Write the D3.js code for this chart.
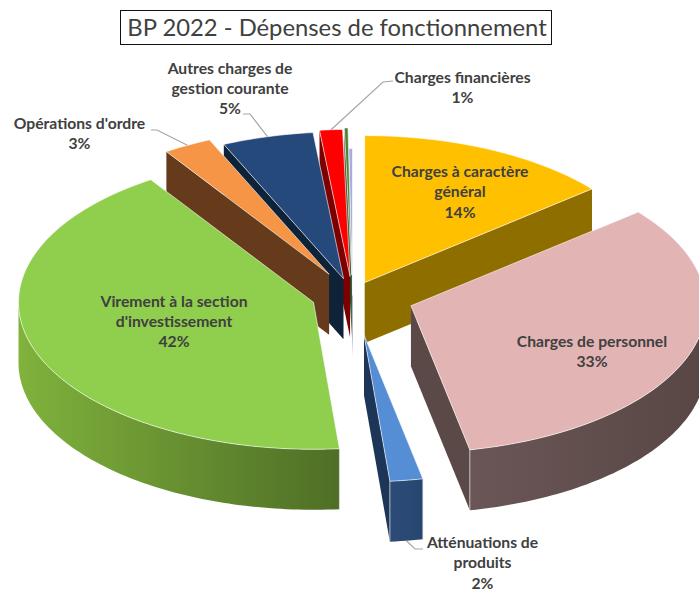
<!DOCTYPE html>
<html>
<head>
<meta charset="utf-8">
<script src="https://cdn.jsdelivr.net/npm/d3@7"></script>
<style>
  html, body { margin: 0; background: #fff; }
  svg { display: block; }
  text { font-family: Lato, "Open Sans", sans-serif; }
</style>
</head>
<body>
<div class="chart"></div>
<script>
const titleText = "BP 2022 - Dépenses de fonctionnement";

// clockwise from 12 o'clock, the last two slivers have no label in the chart
const categories = [
  ["Charges à caractère", "général"],
  ["Charges de personnel"],
  ["Atténuations de", "produits"],
  ["Virement à la section", "d'investissement"],
  ["Opérations d'ordre"],
  ["Autres charges de", "gestion courante"],
  ["Charges financières"],
  null,
  null
];
const shares = [14.0, 32.8, 1.8, 42.1, 2.65, 5.0, 1.25, 0.2, 0.2];
const explosion = [0.097, 0.21, 0.27, 0.14, 0.165, 0.118, 0.13, 0.14, 0];

const topColors = ["#ffc000", "#e2b4b4", "#558ed5", "#90ce4e", "#f59545", "#25497a", "#ff0000", "#4f7f3a", "#aaaadd"];
const sideColors = ["#8f6e00", "#5b4947", "#1d3557", "#5f8a2e", "#653b1c", "#0e2238", "#7c0000", "#2f4f22", "#77779a"];
const rimFrom = ["#8f6e00", "#6a5656", "#2c4c78", "#80b23c", "#653b1c", "#0e2238", "#7c0000", "#2f4f22", "#77779a"];
const rimTo = ["#8f6e00", "#584745", "#27466f", "#4e6e26", "#653b1c", "#0e2238", "#7c0000", "#2f4f22", "#77779a"];

const width = 699, height = 592;
const centerX = 352.5, centerY = 295.5, radiusX = 295, radiusY = 147, depth = 60.5;
const lineStep = 20.4;

// label anchors: x centre and baseline of the first line, elbow of the leader line if any
const labelPos = [
  { x: 460, y: 177 },
  { x: 592, y: 346.5 },
  { x: 482.5, y: 548, elbow: [[423, 549], [415, 549]], atBottom: true },
  { x: 174, y: 306.5 },
  { x: 79.5, y: 129, elbow: [[151, 130], [157, 130]] },
  { x: 230, y: 73.5, elbow: [[243, 114], [250, 114]] },
  { x: 462.5, y: 83, elbow: [[393, 81], [383, 82]] },
  null,
  null
];

const x = d3.scaleLinear().domain([-1, 1]).range([centerX - radiusX, centerX + radiusX]);
const y = d3.scaleLinear().domain([-1, 1]).range([centerY - radiusY, centerY + radiusY]);
const line = d3.line();

const svg = d3
  .select(".chart")
  .append("svg")
  .attr("width", width)
  .attr("height", height);

const defs = svg.append("defs");

const slices = d3
  .pie()
  .sort(null)
  .value(d => d)(shares)
  .map((d, i) => {
    const mid = (d.startAngle + d.endAngle) / 2;
    const e = explosion[i];
    const ox = x(Math.sin(mid) * e) - x(0);
    const oy = y(-Math.cos(mid) * e) - y(0);
    // point on the slice's top face, r = 1 is the rim
    const pt = (a, r = 1) => [x(Math.sin(a) * r) + ox, y(-Math.cos(a) * r) + oy];
    return { i, mid, start: d.startAngle, end: d.endAngle, pt, apex: pt(0, 0) };
  })
  // back slices first, so the front ones paint over them
  .sort((a, b) => Math.cos(b.mid) - Math.cos(a.mid));

const arcPoints = (a0, a1, pt) => {
  const n = Math.max(2, Math.ceil((a1 - a0) / 0.02));
  return d3.range(n + 1).map(k => pt(a0 + ((a1 - a0) * k) / n));
};
const drop = p => [p[0], p[1] + depth];

const groups = svg
  .selectAll(".slice")
  .data(slices)
  .enter()
  .append("g")
  .attr("class", "slice");

groups.each(function(s) {
  const g = d3.select(this);
  const inner = s.pt(s.mid, 0.6);

  // the two cut faces, only the ones turned towards the viewer
  [s.start, s.end].forEach(a => {
    const p = s.pt(a);
    const ex = p[0] - s.apex[0], ey = p[1] - s.apex[1];
    const sideInner = ex * (inner[1] - s.apex[1]) - ey * (inner[0] - s.apex[0]);
    const sideDown = ex * depth;
    if (sideInner * sideDown < 0) {
      g.append("path")
        .attr("d", line([s.apex, p, drop(p), drop(s.apex)]) + "Z")
        .attr("fill", sideColors[s.i]);
    }
  });

  // outer wall, front half of the rim only
  const a0 = Math.max(s.start, Math.PI / 2);
  const a1 = Math.min(s.end, (3 * Math.PI) / 2);
  if (a1 > a0) {
    const rim = arcPoints(a0, a1, s.pt);
    const xs = d3.extent(rim, p => p[0]);
    const grad = defs
      .append("linearGradient")
      .attr("id", "rim" + s.i)
      .attr("gradientUnits", "userSpaceOnUse")
      .attr("x1", xs[0])
      .attr("x2", xs[1])
      .attr("y1", 0)
      .attr("y2", 0);
    grad.append("stop").attr("offset", 0).attr("stop-color", rimFrom[s.i]);
    grad.append("stop").attr("offset", 1).attr("stop-color", rimTo[s.i]);
    g.append("path")
      .attr("d", line(rim.concat(rim.map(drop).reverse())) + "Z")
      .attr("fill", "url(#rim" + s.i + ")");
    // corner highlights
    [rim[0], rim[rim.length - 1]].forEach(p => {
      if (a1 - a0 < Math.PI / 2 + 1 && p[1] > centerY + radiusY / 2) {
        g.append("path")
          .attr("d", line([p, drop(p)]))
          .attr("stroke", "#e8e4e0")
          .attr("stroke-opacity", 0.7);
      }
    });
  }

  // top face
  g.append("path")
    .attr("d", line([s.apex].concat(arcPoints(s.start, s.end, s.pt))) + "Z")
    .attr("fill", topColors[s.i])
    .attr("stroke", "#fff")
    .attr("stroke-opacity", 0.6)
    .attr("stroke-width", 1);
});

// leader lines
slices.forEach(s => {
  const pos = labelPos[s.i];
  if (!pos || !pos.elbow) return;
  const tip = pos.atBottom ? drop(s.pt(s.mid)) : s.pt(s.mid);
  svg
    .append("path")
    .attr("d", line(pos.elbow.concat([tip])))
    .attr("fill", "none")
    .attr("stroke", "#a6a6a6")
    .attr("stroke-width", 1.2);
});

// data labels
categories.forEach((lines, i) => {
  if (!lines) return;
  const pos = labelPos[i];
  const label = svg
    .append("text")
    .attr("text-anchor", "middle")
    .attr("font-size", 15.7)
    .attr("font-weight", 700)
    .attr("fill", "#404040");
  lines.concat(Math.round(shares[i]) + "%").forEach((t, k) => {
    label.append("tspan").attr("x", pos.x).attr("y", pos.y + k * lineStep).text(t);
  });
});

// title box
svg
  .append("rect")
  .attr("x", 120.5)
  .attr("y", 10.5)
  .attr("width", 431)
  .attr("height", 34)
  .attr("fill", "#fff")
  .attr("stroke", "#111");
svg
  .append("text")
  .attr("x", 337)
  .attr("y", 36)
  .attr("text-anchor", "middle")
  .attr("font-size", 23.8)
  .attr("fill", "#404040")
  .text(titleText);
</script>
</body>
</html>
